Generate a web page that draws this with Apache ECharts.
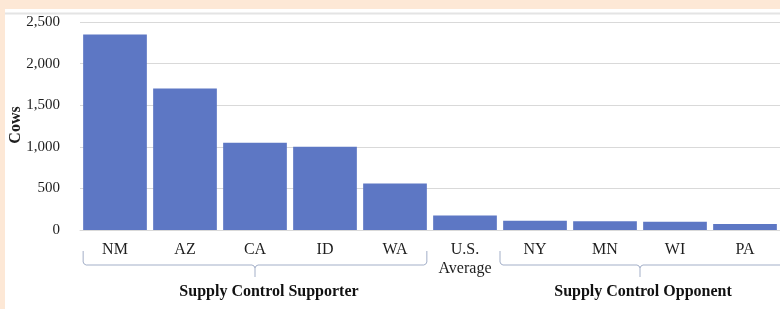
<!DOCTYPE html>
<html>
<head>
<meta charset="utf-8">
<script src="https://cdn.jsdelivr.net/npm/echarts@6/dist/echarts.min.js"></script>
<style>
html,body{margin:0;padding:0;background:#fde8d6;width:780px;height:309px;overflow:hidden;}
#chart{position:absolute;left:5px;top:9px;width:775px;height:300px;background:#ffffff;}
</style>
</head>
<body>
<div id="chart"></div>
<script>
var categories = ['NM', 'AZ', 'CA', 'ID', 'WA', 'U.S.\nAverage', 'NY', 'MN', 'WI', 'PA'];
var cows = [2350, 1700, 1050, 1000, 560, 175, 110, 105, 100, 72];
var yTicks = [0, 500, 1000, 1500, 2000, 2500];
var yTitle = 'Cows';
var groups = [
  {name: 'Supply Control Supporter', from: 0, to: 4, textShift: 14},
  {name: 'Supply Control Opponent', from: 6, to: 9, textShift: 3}
];

var serif = '"Liberation Serif", "DejaVu Serif", serif';
var chart = echarts.init(document.getElementById('chart'));
chart.setOption({
  animation: false,
  grid: {left: 75, right: 0, top: 13, bottom: 79, outerBoundsMode: 'none', containLabel: false},
  xAxis: {
    type: 'category',
    data: categories,
    axisLine: {show: true, lineStyle: {color: '#d9d9d9'}},
    axisTick: {show: false},
    axisLabel: {color: '#1e1e1e', fontFamily: serif, fontSize: 16, margin: 10, lineHeight: 19, interval: 0}
  },
  yAxis: {
    type: 'value',
    min: yTicks[0],
    max: yTicks[yTicks.length - 1],
    interval: 500,
    axisLine: {show: false},
    axisTick: {show: false},
    splitLine: {lineStyle: {color: '#d9d9d9'}},
    axisLabel: {
      color: '#1e1e1e', fontFamily: serif, fontSize: 15, margin: 20,
      formatter: function (v) { return v.toLocaleString('en-US'); }
    }
  },
  series: [{
    type: 'bar',
    data: cows,
    barCategoryGap: '9%',
    itemStyle: {color: '#5d77c4'}
  }]
});

function px(i) { return chart.convertToPixel({xAxisIndex: 0}, categories[i]); }
var band = px(1) - px(0);
var half = band * 0.455;
var yTop = 242, yH = 256, yTick = 268, r = 3;
var yMid = (chart.convertToPixel({yAxisIndex: 0}, yTicks[0]) + chart.convertToPixel({yAxisIndex: 0}, yTicks[yTicks.length - 1])) / 2;
var graphics = [{
  type: 'line', shape: {x1: 0, y1: 4.5, x2: 775, y2: 4.5},
  style: {stroke: '#e4e4e4', lineWidth: 2}, silent: true
}, {
  type: 'text', x: 11, y: yMid - 1, rotation: Math.PI / 2,
  style: {text: yTitle, fill: '#1e1e1e', font: 'bold 16px ' + serif, textAlign: 'center', textVerticalAlign: 'middle'},
  silent: true
}];
var bracketStyle = {stroke: '#a3afc8', lineWidth: 1, fill: null};
groups.forEach(function (g, k) {
  var x0 = k === 0 ? px(g.from) - half : px(g.from) - band / 2;
  var x1 = k === 0 ? px(g.to) + half : px(g.to) + band / 2 + 3;
  var xm = (px(g.from) + px(g.to)) / 2;
  graphics.push({
    type: 'polyline',
    shape: {points: [[x0, yTop], [x0, yH - r], [x0 + 1, yH - 1], [x0 + r, yH], [xm - r, yH], [xm - 1, yH + 1], [xm, yH + r], [xm, yTick]]},
    style: bracketStyle, silent: true
  });
  graphics.push({
    type: 'polyline',
    shape: {points: [[xm, yH + r], [xm + 1, yH + 1], [xm + r, yH], [x1 - r, yH], [x1 - 1, yH - 1], [x1, yH - r], [x1, yTop]]},
    style: bracketStyle, silent: true
  });
  graphics.push({
    type: 'text', x: xm + g.textShift, y: 283,
    style: {text: g.name, fill: '#111111', font: 'bold 16px ' + serif, textAlign: 'center', textVerticalAlign: 'middle'},
    silent: true
  });
});
chart.setOption({graphic: graphics});
</script>
</body>
</html>
